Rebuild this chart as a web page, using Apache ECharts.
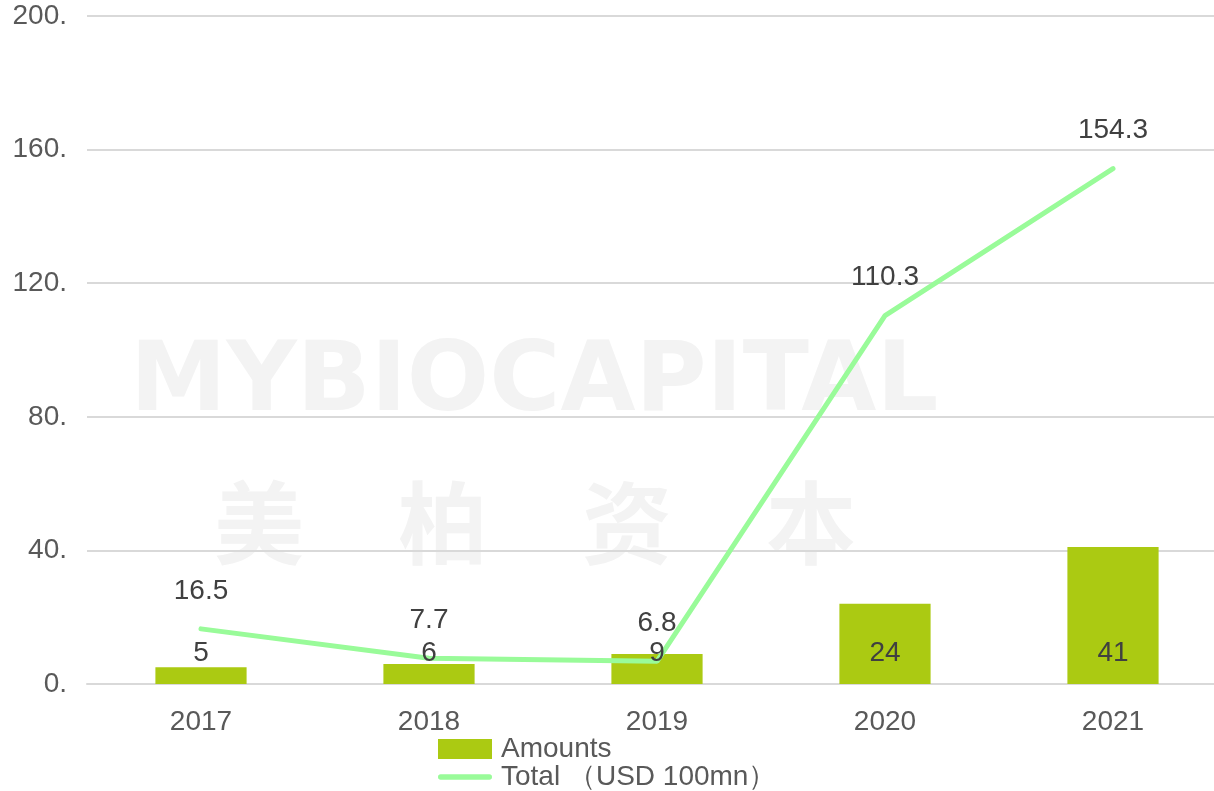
<!DOCTYPE html>
<html>
<head>
<meta charset="utf-8">
<title>Amounts and Total</title>
<script src="https://cdn.jsdelivr.net/npm/echarts@6/dist/echarts.min.js"></script>
<style>
  html, body { margin: 0; padding: 0; background: #fff; }
  #chart { width: 1214px; height: 791px; }
</style>
</head>
<body>
<div id="chart"></div>
<script>
// data
var years = ['2017', '2018', '2019', '2020', '2021'];
var amounts = [5, 6, 9, 24, 41];
var totals = [16.5, 7.7, 6.8, 110.3, 154.3];
var yTicks = [0, 40, 80, 120, 160, 200];
var watermarkChars = ['美', '柏', '资', '本'];

var font = '"Liberation Sans", Arial, sans-serif';
var lineColor = '#99fb99';
var barColor = '#abca12';

var myChart = echarts.init(document.getElementById('chart'));

// faint watermark behind the plot
var graphics = [{
  type: 'text', z: -10, left: 130, top: 336,
  style: { text: 'MYBIOCAPITAL', fill: '#f3f3f3', font: 'bold 97px "DejaVu Sans"' }
}];
watermarkChars.forEach(function (ch, i) {
  graphics.push({
    type: 'text', z: -10, left: 214 + i * 184, top: 478,
    style: { text: ch, fill: '#f3f3f3', font: 'bold 90px "Noto Sans CJK SC"' }
  });
});

var option = {
  backgroundColor: '#ffffff',
  textStyle: { fontFamily: font },
  animation: false,
  graphic: graphics,
  grid: {
    left: 87,
    top: 16,
    width: 1140,
    height: 668,
    outerBoundsMode: 'none'
  },
  legend: {
    orient: 'vertical',
    left: 438,
    top: 735,
    height: 56,
    padding: 0,
    itemWidth: 54,
    itemHeight: 20,
    itemGap: 0,
    textStyle: { fontSize: 28, color: '#595959', fontFamily: font, padding: [0, 0, 0, 4] },
    data: [
      { name: 'Amounts', icon: 'rect' },
      {
        name: 'Total （USD 100mn）',
        icon: 'path://M3,0 L57,0 A3,3 0 0 1 57,6 L3,6 A3,3 0 0 1 3,0 Z',
        itemStyle: { color: lineColor }
      }
    ]
  },
  xAxis: {
    type: 'category',
    data: years,
    axisLine: { lineStyle: { color: '#d9d9d9', width: 2 } },
    axisTick: { show: false },
    axisLabel: { fontSize: 28, color: '#595959', margin: 24 }
  },
  yAxis: {
    type: 'value',
    min: yTicks[0],
    max: yTicks[yTicks.length - 1],
    interval: yTicks[1] - yTicks[0],
    axisLine: { show: false },
    axisTick: { show: false },
    splitLine: { lineStyle: { color: '#d9d9d9', width: 2 } },
    axisLabel: {
      fontSize: 28,
      color: '#595959',
      margin: 20,
      formatter: function (v) { return v + '.'; }
    }
  },
  series: [
    {
      name: 'Amounts',
      type: 'bar',
      data: amounts,
      barWidth: '40%',
      z: 2,
      itemStyle: { color: barColor }
    },
    {
      name: 'Total （USD 100mn）',
      type: 'line',
      data: totals,
      symbol: 'circle',
      symbolSize: 2,
      showSymbol: true,
      z: 3,
      lineStyle: { color: lineColor, width: 5, cap: 'round' },
      itemStyle: { color: lineColor },
      label: {
        show: true,
        position: 'top',
        distance: 23,
        fontSize: 28,
        color: '#404040'
      }
    },
    {
      // transparent copy of the bars so the value labels sit above the line
      name: 'AmountsLabels',
      type: 'bar',
      data: amounts,
      barWidth: '40%',
      barGap: '-100%',
      z: 4,
      silent: true,
      itemStyle: { color: 'rgba(0,0,0,0)' },
      label: {
        show: true,
        position: 'insideBottom',
        distance: 17,
        fontSize: 28,
        color: '#404040'
      }
    }
  ]
};

myChart.setOption(option);
</script>
</body>
</html>
